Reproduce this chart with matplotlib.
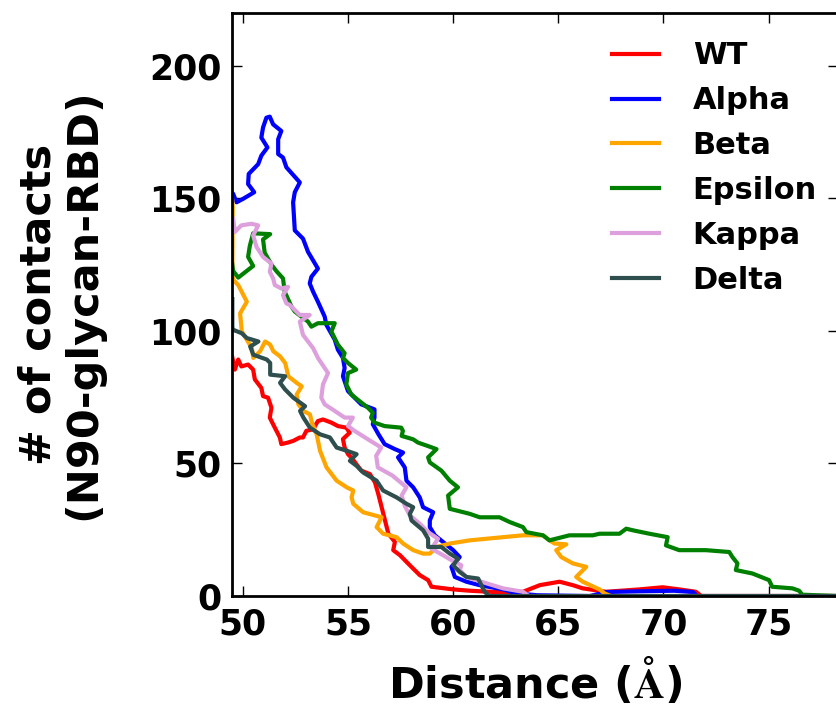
import matplotlib
matplotlib.use("Agg")
import matplotlib.pyplot as plt

# distance (A) vs number of N90-glycan / RBD contacts for each variant
wt_x = [49.5, 49.62, 49.78, 49.93, 50.25, 50.49, 50.57, 50.88, 50.96, 51.2, 51.36, 51.28, 51.52, 51.76, 51.83,
        52.15, 52.39, 52.71, 52.86, 53.02, 53.34, 53.57, 53.81, 54.21, 54.52, 54.92, 55.08, 54.76, 54.84, 55.0,
        55.23, 55.39, 55.63, 56.04, 56.28, 56.44, 56.6, 56.76, 56.92, 57.23, 57.15, 57.47, 57.94, 58.41, 58.81,
        58.97, 60.0, 60.79, 62.0, 63.32, 64.12, 65.06, 65.69, 66.16, 67.27, 68.85, 69.96, 70.75, 71.54, 71.8, 78.3]
wt_y = [90, 85.4, 89.2, 86.6, 87.3, 85.4, 81.7, 78.5, 75.4, 74.8, 71.0, 67.3, 63.5, 59.8, 57.3,
        57.9, 58.5, 59.8, 59.8, 62.3, 62.9, 66.0, 66.6, 65.4, 64.1, 63.5, 61.6, 59.2, 56.0, 53.5,
        51.6, 49.8, 47.3, 46.0, 42.9, 38.5, 33.5, 28.5, 23.5, 20.4, 17.3, 15.4, 11.6, 7.9, 6.0,
        3.5, 2.5, 2.0, 1.5, 1.6, 4.1, 5.4, 4.1, 2.9, 1.6, 2.5, 3.3, 2.5, 1.6, 0, 0]

alpha_x = [49.5, 49.54, 49.70, 50.01, 50.54, 50.25, 50.28, 50.73, 50.88, 51.17, 50.88, 50.96, 51.12, 51.28, 51.44,
           51.83, 51.68, 51.68, 51.91, 52.07, 52.71, 52.47, 52.39, 52.47, 52.86, 53.10, 53.57, 53.26, 53.18, 53.34,
           53.57, 53.89, 53.97, 54.37, 54.52, 54.76, 54.84, 54.76, 55.0, 55.63, 56.26, 56.26, 56.18, 56.45, 56.74,
           57.23, 57.62, 57.38, 57.70, 57.78, 58.10, 58.41, 58.57, 59.05, 58.89, 58.89, 59.13, 60.0, 60.31, 59.92,
           60.08, 60.63, 61.26, 62.37, 63.0, 64.0, 66.5, 67.3, 69.0, 70.5, 71.4, 71.6, 78.3]
alpha_y = [152, 151.7, 148.5, 149.8, 152.3, 155.4, 159.2, 162.9, 166.1, 169.2, 172.9, 176.7, 180.4, 180.8, 177.9,
           175.4, 172.3, 166.7, 165.4, 161.7, 156.0, 152.3, 148.5, 137.9, 134.8, 129.8, 123.5, 120.4, 117.9, 114.8,
           111.0, 105.4, 102.3, 96.7, 92.9, 89.8, 86.0, 82.9, 77.3, 72.3, 70.4, 67.3, 64.8, 61.0, 57.3,
           55.4, 54.1, 52.3, 48.5, 43.5, 41.0, 37.2, 33.5, 31.6, 28.5, 26.0, 22.9, 17.3, 14.7, 11.0,
           7.2, 5.4, 4.1, 2.5, 1.0, 0.3, 0, 1.5, 1.8, 2.0, 1.5, 0, 0]

beta_x = [49.5, 49.52, 49.5, 49.55, 49.78, 50.19, 49.87, 49.95, 50.43, 50.50, 50.82, 51.06, 51.3, 51.45, 51.77,
          52.01, 52.09, 52.16, 52.56, 52.80, 52.56, 52.64, 52.88, 53.19, 53.3, 53.51, 53.67, 53.98, 54.46, 54.94,
          55.25, 55.17, 55.25, 55.72, 56.28, 56.60, 56.36, 56.67, 57.31, 57.62, 58.1, 58.57, 58.89, 59.21, 59.84,
          60.79, 62.37, 63.32, 64.27, 64.58, 64.82, 65.38, 64.9, 65.14, 65.69, 66.33, 65.85, 66.16, 66.96, 67.2,
          67.5, 78.3]
beta_y = [149, 147, 121, 119.2, 117.3, 111.0, 106.6, 99.8, 93.5, 89.8, 92.3, 96.0, 94.8, 92.3, 90.4,
          87.9, 85.4, 82.9, 80.4, 79.1, 76.0, 72.3, 69.8, 68.5, 65.0, 61.0, 54.8, 48.5, 43.5, 41.0,
          39.8, 37.2, 34.8, 31.6, 30.4, 29.7, 26.0, 23.5, 22.2, 19.8, 17.3, 16.0, 16.0, 18.5, 19.8,
          21.0, 22.2, 22.9, 22.9, 21.0, 19.8, 19.5, 17.3, 14.7, 12.3, 11.0, 7.2, 5.4, 2.5, 1.0,
          0, 0]

epsilon_x = [49.5, 49.54, 49.78, 50.49, 50.25, 50.33, 50.49, 51.3, 50.96, 51.04, 51.36, 51.6, 51.91, 51.99, 52.31,
             52.47, 52.78, 53.1, 53.26, 53.57, 54.37, 54.21, 54.52, 54.84, 54.76, 55.0, 55.39, 55.0, 54.92, 55.16,
             55.55, 55.95, 56.18, 56.10, 56.26, 56.74, 57.53, 57.61, 57.55, 58.10, 58.32, 58.79, 59.21, 58.81, 58.89,
             59.44, 59.84, 60.23, 59.76, 59.84, 60.79, 61.26, 62.21, 62.69, 63.32, 63.48, 64.27, 64.58, 65.53, 66.64,
             66.96, 67.91, 68.23, 68.54, 69.33, 70.2, 70.12, 70.75, 72.02, 73.13, 73.28, 73.52, 73.44, 74.23, 75.02,
             75.17, 76.13, 76.45, 76.6, 78.3]
epsilon_y = [125, 122.6, 120.1, 124.5, 127.9, 132.0, 136.8, 136.5, 134.5, 129.5, 125.0, 122.5, 119.8, 114.8, 109.2,
             107.3, 105.4, 103.5, 101.6, 102.9, 102.9, 99.8, 94.8, 91.6, 89.8, 87.9, 85.4, 84.1, 79.8, 76.0,
             73.5, 71.0, 69.1, 67.3, 65.4, 64.1, 63.5, 62.3, 60.4, 59.1, 57.9, 56.6, 55.4, 52.3, 50.4,
             47.3, 43.5, 41.0, 37.9, 32.9, 31.0, 29.7, 29.7, 27.9, 26.0, 24.1, 22.9, 21.0, 22.9, 22.9,
             23.5, 23.5, 25.4, 24.8, 23.5, 22.2, 19.1, 17.3, 17.3, 16.6, 14.7, 12.3, 9.8, 8.5, 6.0,
             3.5, 2.9, 2.0, 0.5, 0]

kappa_x = [49.5, 49.54, 49.62, 49.93, 50.41, 50.73, 50.49, 50.65, 50.96, 51.36, 51.28, 51.44, 51.52, 51.83, 52.15,
           51.91, 52.07, 52.23, 52.71, 53.18, 52.71, 52.86, 53.34, 53.57, 53.89, 54.05, 53.81, 53.73, 53.89, 54.37,
           54.84, 55.23, 55.0, 55.31, 55.95, 56.58, 56.34, 56.42, 57.12, 57.78, 57.55, 57.7, 57.94, 58.41, 58.81,
           59.28, 58.97, 59.52, 59.92, 60.39, 60.31, 60.63, 61.1, 61.58, 62.37, 63.32, 63.6, 78.3]
kappa_y = [143, 142.3, 137.3, 139.8, 140.4, 139.8, 136.0, 131.7, 127.9, 125.4, 122.3, 119.8, 117.3, 116.0, 116.6,
           113.5, 110.4, 109.8, 106.0, 106.0, 103.5, 98.5, 93.5, 89.8, 86.0, 84.1, 79.8, 74.8, 72.3, 69.8,
           67.3, 67.3, 64.1, 62.3, 59.1, 56.0, 52.9, 48.5, 45.4, 41.0, 37.9, 34.0, 30.4, 27.3, 24.1,
           21.6, 17.9, 15.4, 13.5, 11.6, 9.8, 7.2, 6.0, 4.8, 2.9, 1.6, 0, 0]

delta_x = [49.5, 49.5, 49.55, 49.95, 50.19, 50.74, 50.35, 50.50, 51.14, 51.30, 51.30, 52.01, 51.77, 52.01, 52.40,
           52.96, 52.72, 52.88, 53.19, 53.67, 54.14, 54.46, 54.94, 55.41, 55.09, 55.41, 55.72, 56.36, 56.67, 57.31,
           57.78, 58.10, 57.94, 58.02, 58.57, 58.81, 58.81, 59.44, 59.84, 60.23, 60.0, 60.31, 60.63, 61.19, 61.34,
           61.5, 61.7, 78.3]
delta_y = [112, 101, 100.4, 99.1, 97.3, 96.0, 94.1, 91.0, 89.2, 87.9, 83.5, 82.9, 80.4, 77.9, 74.8,
           71.6, 69.8, 67.3, 63.5, 61.0, 59.8, 56.0, 54.8, 53.5, 51.0, 49.1, 46.6, 43.5, 39.8, 37.2,
           34.8, 33.5, 31.0, 28.5, 24.8, 21.6, 18.5, 18.5, 16.0, 14.1, 11.6, 9.1, 7.2, 6.6, 4.1,
           1.6, 0, 0]

names = ["WT", "Alpha", "Beta", "Epsilon", "Kappa", "Delta"]
colors = ["red", "blue", "orange", "green", "plum", "darkslategray"]
xs = [wt_x, alpha_x, beta_x, epsilon_x, kappa_x, delta_x]
ys = [wt_y, alpha_y, beta_y, epsilon_y, kappa_y, delta_y]

plt.rcParams["font.family"] = "DejaVu Sans"
plt.rcParams["font.weight"] = "bold"
plt.rcParams["mathtext.fontset"] = "cm"

fig = plt.figure(figsize=(8.36, 7.11), dpi=100)
ax = fig.add_axes([0.2779, 0.1617, 0.7245, 0.8204])

for x, y, c, n in zip(xs, ys, colors, names):
    ax.plot(x, y, color=c, lw=3, label=n)

ax.set_xlim(49.5, 78.3)
ax.set_ylim(0, 220)
ax.set_xticks([50, 55, 60, 65, 70, 75])
ax.set_yticks([0, 50, 100, 150, 200])
ax.tick_params(direction="in", top=True, right=True, length=7, width=1,
               labelsize=25, pad=8)
for s in ax.spines.values():
    s.set_linewidth(2)

ax.set_xlabel(r"Distance ($\mathrm{\AA}$)", fontsize=31, fontweight="bold", labelpad=10)
ax.set_ylabel("# of contacts\n(N90-glycan-RBD)", fontsize=31, fontweight="bold",
              labelpad=32, linespacing=1.08)

ax.legend(loc="upper left", bbox_to_anchor=(0.6264, 0.951), frameon=False,
          fontsize=22, handlelength=1.55, handletextpad=1.1, labelspacing=0.52,
          borderaxespad=0, borderpad=0)

fig.savefig("out.png", dpi=100)
